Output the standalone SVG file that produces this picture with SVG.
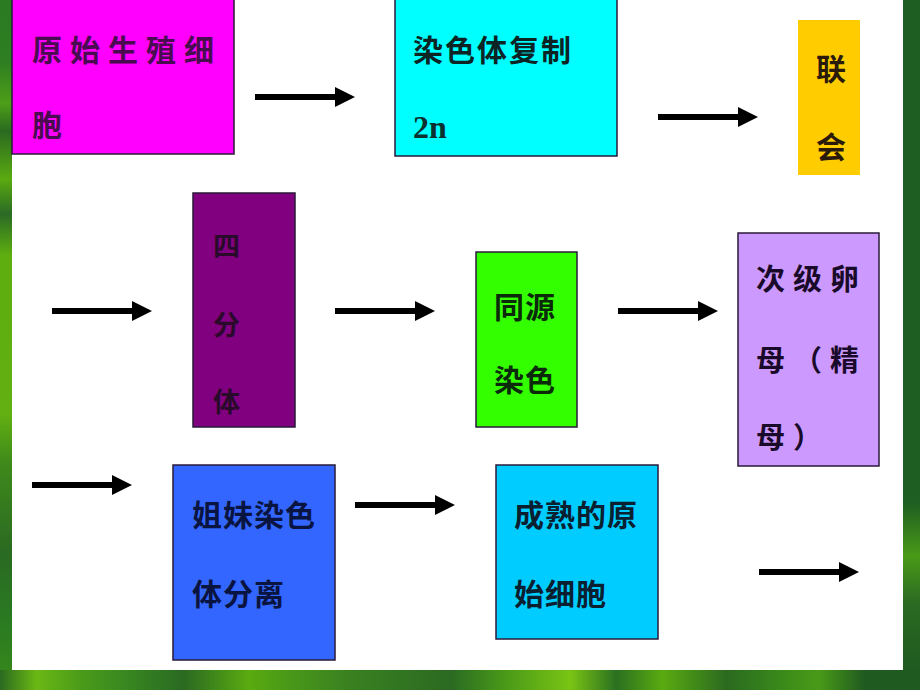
<svg xmlns="http://www.w3.org/2000/svg" width="920" height="690" viewBox="0 0 920 690">
<defs>
<style>
.box{stroke:#2a1a3a;stroke-width:1.5}
.t{font-family:"Noto Sans CJK SC","Noto Sans CJK TC",sans-serif;font-weight:bold;font-size:30px;fill:#161626}
.arrow{fill:#000}
</style>
<linearGradient id="gl" x1="0" y1="0" x2="0" y2="1">
<stop offset="0" stop-color="#2a7a22"/>
<stop offset="0.09" stop-color="#2e7e22"/>
<stop offset="0.15" stop-color="#4e9e18"/>
<stop offset="0.19" stop-color="#2a6a20"/>
<stop offset="0.26" stop-color="#5aaa10"/>
<stop offset="0.31" stop-color="#2a6a25"/>
<stop offset="0.37" stop-color="#5eae10"/>
<stop offset="0.6" stop-color="#62b012"/>
<stop offset="0.67" stop-color="#3f8a1a"/>
<stop offset="0.8" stop-color="#2a6a22"/>
<stop offset="0.9" stop-color="#2a7a22"/>
<stop offset="1" stop-color="#3a8a1a"/>
</linearGradient>
<linearGradient id="gb" x1="0" y1="0" x2="1" y2="0">
<stop offset="0" stop-color="#2a6a20"/>
<stop offset="0.04" stop-color="#6ab814"/>
<stop offset="0.09" stop-color="#4a9a1a"/>
<stop offset="0.13" stop-color="#3a8a20"/>
<stop offset="0.2" stop-color="#2a6a22"/>
<stop offset="0.27" stop-color="#5aaa10"/>
<stop offset="0.31" stop-color="#4a9a18"/>
<stop offset="0.38" stop-color="#3a8020"/>
<stop offset="0.49" stop-color="#2a6a22"/>
<stop offset="0.55" stop-color="#4a9a18"/>
<stop offset="0.62" stop-color="#7ac414"/>
<stop offset="0.67" stop-color="#2a7020"/>
<stop offset="0.72" stop-color="#5aaa10"/>
<stop offset="0.79" stop-color="#2a6a20"/>
<stop offset="0.85" stop-color="#3a8a1a"/>
<stop offset="0.89" stop-color="#4a9a18"/>
<stop offset="0.94" stop-color="#1f5a20"/>
<stop offset="1" stop-color="#1f5a20"/>
</linearGradient>
<linearGradient id="gr" x1="0" y1="0" x2="0" y2="1">
<stop offset="0" stop-color="#1f5e22"/>
<stop offset="0.75" stop-color="#1f5e22"/>
<stop offset="0.83" stop-color="#4a9a18"/>
<stop offset="0.9" stop-color="#2a6a22"/>
<stop offset="1" stop-color="#1f5a20"/>
</linearGradient>
<path id="arr" d="M0,-3 L80,-3 L80,-10 L100,0 L80,10 L80,3 L0,3 Z"/>
</defs>
<rect x="0" y="0" width="920" height="690" fill="#1f5e22"/>
<rect x="0" y="0" width="12" height="690" fill="url(#gl)"/>
<rect x="0" y="670" width="920" height="20" fill="url(#gb)"/>
<rect x="903" y="0" width="17" height="670" fill="url(#gr)"/>
<rect x="12" y="0" width="891" height="670" fill="#ffffff"/>

<g id="connectors">
<use href="#arr" class="arrow" x="255" y="97"/>
<use href="#arr" class="arrow" x="658" y="117"/>
<use href="#arr" class="arrow" x="52" y="311"/>
<use href="#arr" class="arrow" x="335" y="311"/>
<use href="#arr" class="arrow" x="618" y="311"/>
<use href="#arr" class="arrow" x="32" y="485"/>
<use href="#arr" class="arrow" x="355" y="505"/>
<use href="#arr" class="arrow" x="759" y="572"/>
</g>

<g id="n1">
<rect class="box" x="12" y="-2" width="222" height="156" fill="#ff00ff"/>
<text class="t" x="32" y="61" style="fill:#4a0c50;letter-spacing:8px">原始生殖细</text>
<text class="t" x="32" y="136" style="fill:#4a0c50">胞</text>
</g>
<g id="n2">
<rect class="box" x="395" y="-2" width="222" height="158" fill="#00ffff"/>
<text class="t" x="413" y="61" style="letter-spacing:2px;fill:#0c2424">染色体复制</text>
<text x="413" y="138" style="font-family:'Liberation Serif',serif;font-weight:bold;font-size:32px;fill:#0c3030">2n</text>
</g>
<g id="n3">
<rect x="798" y="20" width="62" height="155" fill="#ffcc00"/>
<text class="t" x="831" y="80" text-anchor="middle" style="fill:#2a1a0a">联</text>
<text class="t" x="831" y="158" text-anchor="middle" style="fill:#2a1a0a">会</text>
</g>
<g id="n4">
<rect class="box" x="193" y="193" width="102" height="234" fill="#800080"/>
<text class="t" x="213" y="256" style="font-size:27px;fill:#2a0a2a">四</text>
<text class="t" x="213" y="335" style="font-size:27px;fill:#2a0a2a">分</text>
<text class="t" x="213" y="412" style="font-size:27px;fill:#2a0a2a">体</text>
</g>
<g id="n5">
<rect class="box" x="476" y="252" width="101" height="175" fill="#33ff00"/>
<text class="t" x="494" y="318" style="letter-spacing:1px;fill:#0a2a0a">同源</text>
<text class="t" x="494" y="391" style="letter-spacing:1px;fill:#0a2a0a">染色</text>
</g>
<g id="n6">
<rect class="box" x="738" y="233" width="141" height="233" fill="#cc99ff"/>
<text class="t" x="756" y="290" style="font-size:29px;letter-spacing:8px;fill:#1a0a2a">次级卵</text>
<text class="t" x="756" y="371" style="font-size:29px;letter-spacing:8px;fill:#1a0a2a">母（精</text>
<text class="t" x="756" y="448" style="font-size:29px;letter-spacing:8px;fill:#1a0a2a">母）</text>
</g>
<g id="n7">
<rect class="box" x="173" y="465" width="162" height="195" fill="#3366ff"/>
<text class="t" x="192" y="526" style="letter-spacing:1px;fill:#0a1440">姐妹染色</text>
<text class="t" x="192" y="605" style="letter-spacing:1px;fill:#0a1440">体分离</text>
</g>
<g id="n8">
<rect class="box" x="496" y="465" width="162" height="174" fill="#00ccff"/>
<text class="t" x="514" y="526" style="letter-spacing:1px;fill:#0a2030">成熟的原</text>
<text class="t" x="514" y="605" style="letter-spacing:1px;fill:#0a2030">始细胞</text>
</g>
</svg>
